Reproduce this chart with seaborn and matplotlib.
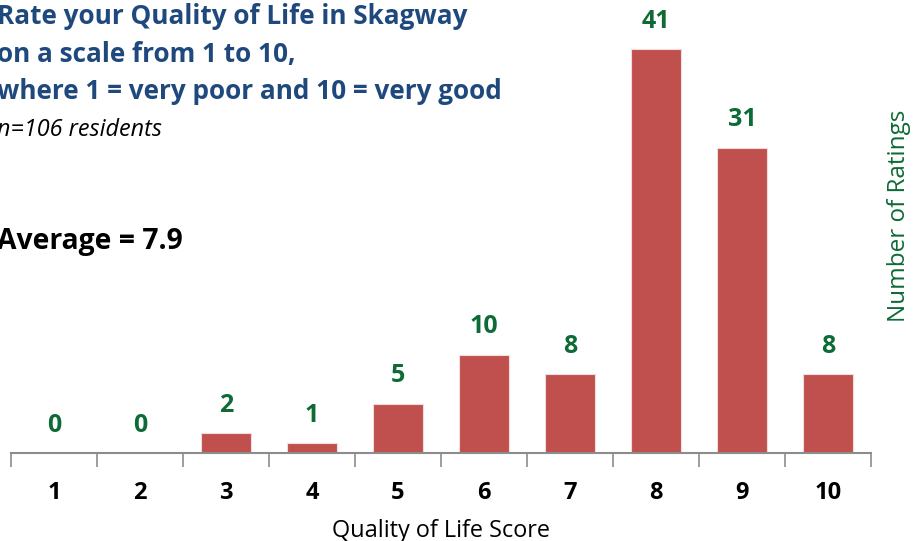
import matplotlib
matplotlib.use("Agg")
import matplotlib.pyplot as plt
import seaborn as sns
import pandas as pd

scores = ["1", "2", "3", "4", "5", "6", "7", "8", "9", "10"]
counts = [0, 0, 2, 1, 5, 10, 8, 41, 31, 8]
title_lines = ["Rate your Quality of Life in Skagway", "on a scale from 1 to 10,",
               "where 1 = very poor and 10 = very good"]
subtitle = "n=106 residents"
average_text = "Average = 7.9"

sns.set_theme(style="white")
plt.rcParams['font.family'] = ['Open Sans', 'DejaVu Sans']

BAR = "#C0504D"
GREEN = "#0E6B35"
BLUE = "#1F497D"

df = pd.DataFrame({"score": scores, "count": counts})

fig = plt.figure(figsize=(9.13, 5.41), dpi=100)
ax = fig.add_axes([11/913, 88/541, 860/913, 453/541])
sns.barplot(data=df, x="score", y="count", color=BAR, width=0.58, ax=ax, saturation=1,
            edgecolor="#F2DCDB", linewidth=0.8)
ax.set_xlim(-0.5, 9.5)
ax.set_ylim(0, 46)
for s in ["top", "left", "right"]:
    ax.spines[s].set_visible(False)
ax.spines["bottom"].set_color("#8C8C8C")
ax.spines["bottom"].set_linewidth(1.5)
ax.set_yticks([])
ax.set_xticks(range(len(scores)))
ax.set_xticklabels(scores, fontsize=17, fontweight="bold", color="black")
ax.set_xticks([i - 0.5 for i in range(len(scores) + 1)], minor=True)
ax.tick_params(axis="x", which="major", length=0, pad=20)
ax.tick_params(axis="x", which="minor", length=10, width=1.2, color="#8C8C8C", bottom=True)
ax.set_xlabel("Quality of Life Score", fontsize=16.9, color="black", labelpad=10)
ax.set_ylabel("")

for i, v in enumerate(counts):
    ax.annotate(str(v), (i, v), xytext=(0, 20), textcoords="offset points",
                ha="center", va="center", fontsize=18, fontweight="bold", color=GREEN)

fig.text(899/913, 1 - 216/541, "Number of Ratings", rotation=90, ha="center", va="center",
         fontsize=17.5, color=GREEN)

for k, line in enumerate(title_lines):
    fig.text(-3/913, 1 - (17 + 37.5 * k)/541, line, ha="left", va="center",
             fontsize=18.8, fontweight="bold", color=BLUE)
fig.text(-3/913, 1 - 130/541, subtitle, ha="left", va="center", fontsize=16.8,
         style="italic", color="black")
fig.text(-3/913, 1 - 242/541, average_text, ha="left", va="center", fontsize=20.3,
         fontweight="bold", color="black")

fig.savefig("out.png", dpi=100)
